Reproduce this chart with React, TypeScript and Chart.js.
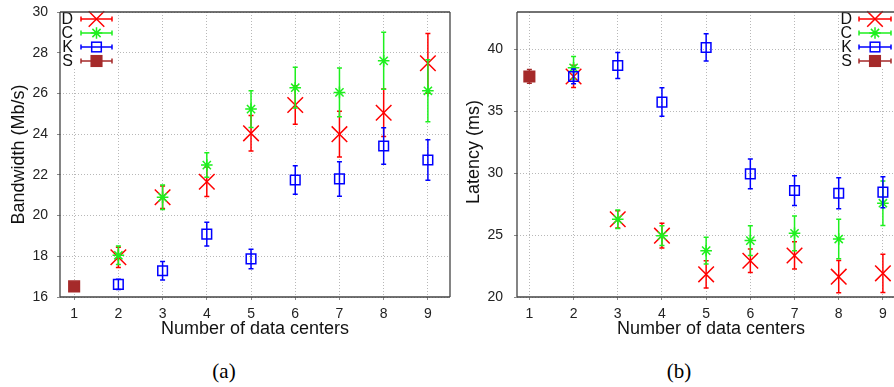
import React, { useEffect, useRef } from 'react';
import { Chart, registerables } from 'chart.js';

Chart.register(...registerables);

// ---------- data ----------
const dataCenters = [1, 2, 3, 4, 5, 6, 7, 8, 9];
const seriesNames = ['D', 'C', 'K', 'S'];

const bwTicks = [16, 18, 20, 22, 24, 26, 28, 30];
const latTicks = [20, 25, 30, 35, 40];

// Bandwidth (Mb/s)
const bwD = [null, 17.95, 20.9, 21.66, 24.04, 25.43, 24.0, 25.05, 27.48];
const bwDErr = [null, 0.5, 0.55, 0.72, 0.87, 0.95, 1.12, 1.17, 1.47];
const bwC = [null, 18.05, 20.9, 22.48, 25.23, 26.28, 26.05, 27.6, 26.13];
const bwCErr = [null, 0.45, 0.6, 0.6, 0.9, 1.0, 1.2, 1.4, 1.52];
const bwK = [null, 16.62, 17.29, 19.09, 17.87, 21.75, 21.8, 23.42, 22.73];
const bwKErr = [null, 0.25, 0.45, 0.58, 0.48, 0.7, 0.85, 0.9, 1.0];
const bwS = [16.52, null, null, null, null, null, null, null, null];
const bwSErr = [0.1, null, null, null, null, null, null, null, null];

// Latency (ms)
const latD = [null, 37.8, 26.27, 24.95, 21.83, 22.93, 23.35, 21.64, 21.91];
const latDErr = [null, 0.9, 0.7, 1.0, 1.1, 0.95, 1.1, 1.3, 1.55];
const latC = [null, 38.5, 26.27, 24.95, 23.74, 24.55, 25.14, 24.68, 27.57];
const latCErr = [null, 0.9, 0.75, 0.8, 1.08, 1.2, 1.4, 1.6, 1.8];
const latK = [null, 37.8, 38.68, 35.73, 40.14, 29.94, 28.59, 28.37, 28.46];
const latKErr = [null, 0.6, 1.05, 1.15, 1.1, 1.2, 1.2, 1.25, 1.25];
const latS = [37.8, null, null, null, null, null, null, null, null];
const latSErr = [0.55, null, null, null, null, null, null, null, null];

// ---------- styles ----------
const colors = ['#ff0000', '#1ef01e', '#0000ff', '#a52a2a'];
const fills = ['rgba(0,0,0,0)', 'rgba(0,0,0,0)', 'rgba(0,0,0,0)', '#a52a2a'];
const pStyles = ['crossRot', 'star', 'rect', 'rect'];
const radii = [11, 5.8, 6.8, 7.5];
const SANS = "'Liberation Sans', Arial, sans-serif";

function drawMarker(ctx: CanvasRenderingContext2D, k: number, x: number, y: number) {
  const r = radii[k];
  ctx.save();
  ctx.strokeStyle = colors[k];
  ctx.fillStyle = colors[k];
  ctx.lineWidth = 1.5;
  ctx.beginPath();
  const d = r * Math.SQRT1_2;
  if (pStyles[k] === 'crossRot' || pStyles[k] === 'star') {
    ctx.moveTo(x - d, y - d); ctx.lineTo(x + d, y + d);
    ctx.moveTo(x - d, y + d); ctx.lineTo(x + d, y - d);
    if (pStyles[k] === 'star') {
      ctx.moveTo(x - r, y); ctx.lineTo(x + r, y);
      ctx.moveTo(x, y - r); ctx.lineTo(x, y + r);
    }
    ctx.stroke();
  } else {
    if (k === 3) ctx.fillRect(x - d, y - d, 2 * d, 2 * d);
    ctx.strokeRect(x - d, y - d, 2 * d, 2 * d);
  }
  ctx.restore();
}

function makeDatasets(vals: (number | null)[][], errs: (number | null)[][]) {
  return seriesNames.map((name, k) => ({
    label: name,
    data: dataCenters
      .map((x, i) => ({ x, y: vals[k][i] }))
      .filter((p) => p.y !== null),
    values: vals[k],
    errors: errs[k],
    pointStyle: pStyles[k],
    pointRadius: radii[k],
    pointHoverRadius: radii[k],
    pointBorderColor: colors[k],
    pointBackgroundColor: fills[k],
    pointBorderWidth: 1.5,
    showLine: false,
    order: 4 - k,
  }));
}

interface PanelCfg {
  width: number;
  height: number;
  padding: { left: number; right: number; top: number; bottom: number };
  yWidth: number;
  xMin: number; xMax: number;
  yMin: number; yMax: number;
  yTicks: number[];
  yPad: number;
  yTitle: string;
  yTitleX: number;
  yTitleY: number;
  xTitle: string;
  xTitleY: number;
  legend: { boxX: number; boxW: number; boxH: number; textX: number; lx1: number; lx2: number; rowY: number; rowH: number };
  rightBorder: boolean;
  vals: (number | null)[][];
  errs: (number | null)[][];
}

function makePlugin(cfg: PanelCfg) {
  return {
    id: 'deco',
    beforeDatasetDraw(chart: any, args: any) {
      const ds = chart.data.datasets[args.index];
      const k = args.index;
      const xs = chart.scales.x;
      const ys = chart.scales.y;
      const ctx = chart.ctx as CanvasRenderingContext2D;
      ctx.save();
      ctx.strokeStyle = colors[k];
      ctx.lineWidth = 1.5;
      ctx.beginPath();
      dataCenters.forEach((xv, i) => {
        const v = ds.values[i];
        const e = ds.errors[i];
        if (v === null || e === null) return;
        const px = xs.getPixelForValue(xv);
        const y1 = ys.getPixelForValue(v - e);
        const y2 = ys.getPixelForValue(v + e);
        ctx.moveTo(px, y1); ctx.lineTo(px, y2);
        ctx.moveTo(px - 2.5, y1); ctx.lineTo(px + 2.5, y1);
        ctx.moveTo(px - 2.5, y2); ctx.lineTo(px + 2.5, y2);
      });
      ctx.stroke();
      ctx.restore();
    },
    afterDatasetsDraw(chart: any) {
      const ctx = chart.ctx as CanvasRenderingContext2D;
      const a = chart.chartArea;
      const L = cfg.legend;
      ctx.save();
      // legend box
      ctx.fillStyle = '#ffffff';
      ctx.fillRect(L.boxX, a.top, L.boxW, L.boxH);
      ctx.font = `16px ${SANS}`;
      ctx.textAlign = 'right';
      ctx.textBaseline = 'middle';
      seriesNames.forEach((name, k) => {
        const y = a.top + L.rowY + k * L.rowH;
        ctx.fillStyle = '#111';
        ctx.fillText(name, L.textX, y + 0.5);
        ctx.strokeStyle = colors[k];
        ctx.lineWidth = 1.5;
        ctx.beginPath();
        ctx.moveTo(L.lx1, y); ctx.lineTo(L.lx2, y);
        ctx.moveTo(L.lx1, y - 2.5); ctx.lineTo(L.lx1, y + 2.5);
        ctx.moveTo(L.lx2, y - 2.5); ctx.lineTo(L.lx2, y + 2.5);
        ctx.stroke();
        drawMarker(ctx, k, (L.lx1 + L.lx2) / 2, y);
      });
      // frame
      ctx.strokeStyle = '#444';
      ctx.lineWidth = 1.3;
      ctx.beginPath();
      ctx.moveTo(a.left, a.top); ctx.lineTo(a.right, a.top);
      ctx.moveTo(a.left, a.top); ctx.lineTo(a.left, a.bottom);
      ctx.moveTo(a.left, a.bottom); ctx.lineTo(a.right, a.bottom);
      if (cfg.rightBorder) { ctx.moveTo(a.right, a.top); ctx.lineTo(a.right, a.bottom); }
      ctx.stroke();
      ctx.restore();
    },
    afterDraw(chart: any) {
      const ctx = chart.ctx as CanvasRenderingContext2D;
      const a = chart.chartArea;
      ctx.save();
      ctx.fillStyle = '#111';
      ctx.font = `18px ${SANS}`;
      ctx.textAlign = 'center';
      ctx.textBaseline = 'middle';
      ctx.fillText(cfg.xTitle, (a.left + a.right) / 2, cfg.xTitleY);
      ctx.translate(cfg.yTitleX, cfg.yTitleY);
      ctx.rotate(-Math.PI / 2);
      ctx.fillText(cfg.yTitle, 0, 0);
      ctx.restore();
    },
  };
}

function makeConfig(cfg: PanelCfg): any {
  const gridCommon = {
    color: '#b8b8b8',
    lineWidth: 1,
    drawTicks: true,
    tickLength: 3,
    tickColor: '#888',
    tickBorderDash: [],
  };
  return {
    type: 'scatter',
    data: { datasets: makeDatasets(cfg.vals, cfg.errs) },
    plugins: [makePlugin(cfg)],
    options: {
      responsive: false,
      animation: false,
      devicePixelRatio: 1,
      events: [],
      layout: { padding: cfg.padding, autoPadding: false },
      plugins: { legend: { display: false }, tooltip: { enabled: false } },
      scales: {
        x: {
          type: 'linear',
          min: cfg.xMin,
          max: cfg.xMax,
          afterBuildTicks: (s: any) => { s.ticks = dataCenters.map((v) => ({ value: v })); },
          afterFit: (s: any) => { s.height = 48; s.paddingLeft = 0; s.paddingRight = 0; },
          grid: gridCommon,
          border: { display: false, dash: [1, 2] },
          ticks: { padding: 6, color: '#222', font: { family: SANS, size: 14 }, maxRotation: 0, autoSkip: false },
        },
        y: {
          type: 'linear',
          min: cfg.yMin,
          max: cfg.yMax,
          afterBuildTicks: (s: any) => { s.ticks = cfg.yTicks.map((v) => ({ value: v })); },
          afterFit: (s: any) => { s.width = cfg.yWidth; s.paddingTop = 0; s.paddingBottom = 0; },
          grid: gridCommon,
          border: { display: false, dash: [1, 2] },
          ticks: { padding: cfg.yPad, color: '#222', font: { family: SANS, size: 14 }, autoSkip: false },
        },
      },
    },
  };
}

const leftCfg: PanelCfg = {
  width: 452, height: 345,
  padding: { left: 0, right: 2, top: 12, bottom: 0 },
  yWidth: 60,
  xMin: 0.68, xMax: 9.5,
  yMin: 16, yMax: 30,
  yTicks: bwTicks,
  yPad: 9,
  yTitle: 'Bandwidth (Mb/s)', yTitleX: 19.5, yTitleY: 154.5,
  xTitle: 'Number of data centers', xTitleY: 329,
  legend: { boxX: 61, boxW: 56, boxH: 56, textX: 73, lx1: 81, lx2: 112, rowY: 7, rowH: 14 },
  rightBorder: true,
  vals: [bwD, bwC, bwK, bwS],
  errs: [bwDErr, bwCErr, bwKErr, bwSErr],
};

const rightCfg: PanelCfg = {
  width: 460, height: 345,
  padding: { left: 0, right: 7, top: 12, bottom: 0 },
  yWidth: 65,
  xMin: 0.72, xMax: 9.5,
  yMin: 20, yMax: 43,
  yTicks: latTicks,
  yPad: 11,
  yTitle: 'Latency (ms)', yTitleX: 22, yTitleY: 152,
  xTitle: 'Number of data centers', xTitleY: 329,
  legend: { boxX: 388, boxW: 70, boxH: 55, textX: 400, lx1: 407, lx2: 439, rowY: 7, rowH: 14 },
  rightBorder: false,
  vals: [latD, latC, latK, latS],
  errs: [latDErr, latCErr, latKErr, latSErr],
};

function Panel({ cfg, left }: { cfg: PanelCfg; left: number }) {
  const ref = useRef<HTMLCanvasElement | null>(null);
  useEffect(() => {
    if (!ref.current) return;
    const chart = new Chart(ref.current, makeConfig(cfg));
    return () => chart.destroy();
  }, [cfg]);
  return (
    <canvas
      ref={ref}
      width={cfg.width}
      height={cfg.height}
      style={{ position: 'absolute', left, top: 0, width: cfg.width, height: cfg.height }}
    />
  );
}

const captionStyle = (cx: number): React.CSSProperties => ({
  position: 'absolute',
  left: cx - 50,
  width: 100,
  top: 360,
  textAlign: 'center',
  fontFamily: "'Liberation Serif', 'Times New Roman', serif",
  fontSize: 21,
  lineHeight: '22px',
  color: '#000',
});

export default function App() {
  return (
    <div
      style={{
        position: 'fixed', left: 0, top: 0, width: 894, height: 387,
        overflow: 'hidden', background: '#ffffff',
      }}
    >
      <Panel cfg={leftCfg} left={0} />
      <Panel cfg={rightCfg} left={452} />
      <div style={captionStyle(224)}>(a)</div>
      <div style={captionStyle(679)}>(b)</div>
    </div>
  );
}
